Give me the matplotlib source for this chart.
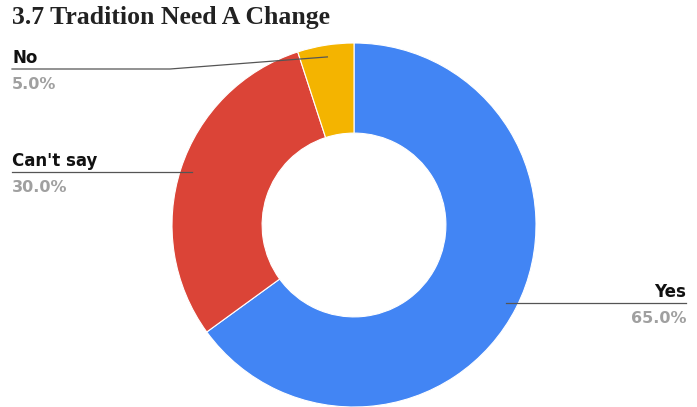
import numpy as np
import matplotlib
matplotlib.use("Agg")
import matplotlib.pyplot as plt

categories = ["Yes", "Can't say", "No"]
shares = [65.0, 30.0, 5.0]
colors = ["#4285F4", "#DB4437", "#F4B400"]

W, H = 697, 407
fig = plt.figure(figsize=(W / 100, H / 100), dpi=100)
ax = fig.add_axes([0, 0, 1, 1])

cx, cy, R = 354, 182, 182
wedges, _ = ax.pie(shares, colors=colors, startangle=90, counterclock=False,
                   center=(cx, cy), radius=R, frame=True,
                   wedgeprops=dict(width=R * 0.495, edgecolor="white", linewidth=0.8))
ax.set_xlim(0, W)
ax.set_ylim(0, H)
ax.set_aspect("equal")
ax.axis("off")

# label rows: (text x, line y, alignment, elbow x)
layout = {
    "Yes": (686, 104, "right", None),
    "Can't say": (12, 235, "left", None),
    "No": (12, 338, "left", 170),
}

for w, cat, val in zip(wedges, categories, shares):
    mid = np.deg2rad((w.theta1 + w.theta2) / 2)
    px = cx + 0.935 * R * np.cos(mid)
    py = cy + 0.935 * R * np.sin(mid)
    tx, ly, ha, elbow = layout[cat]
    if elbow is not None:
        ax.plot([tx, elbow, px], [ly, ly, py], color="#555555", lw=0.9)
    else:
        ax.plot([tx, px], [ly, ly], color="#555555", lw=0.9)
    ax.text(tx, ly + 6, cat, ha=ha, va="baseline", fontsize=12, fontweight="heavy",
            family="DejaVu Sans", color="#111111")
    ax.text(tx, ly - 8, f"{val:.1f}%", ha=ha, va="top", fontsize=11.5, fontweight="bold",
            family="DejaVu Sans", color="#a0a0a0")

fig.text(12 / W, 1 - 24 / H, "3.7 Tradition Need A Change", ha="left", va="baseline",
         fontsize=18.5, fontweight="bold", family="Liberation Serif", color="#222222")

fig.savefig("out.png", dpi=100, facecolor="white")
